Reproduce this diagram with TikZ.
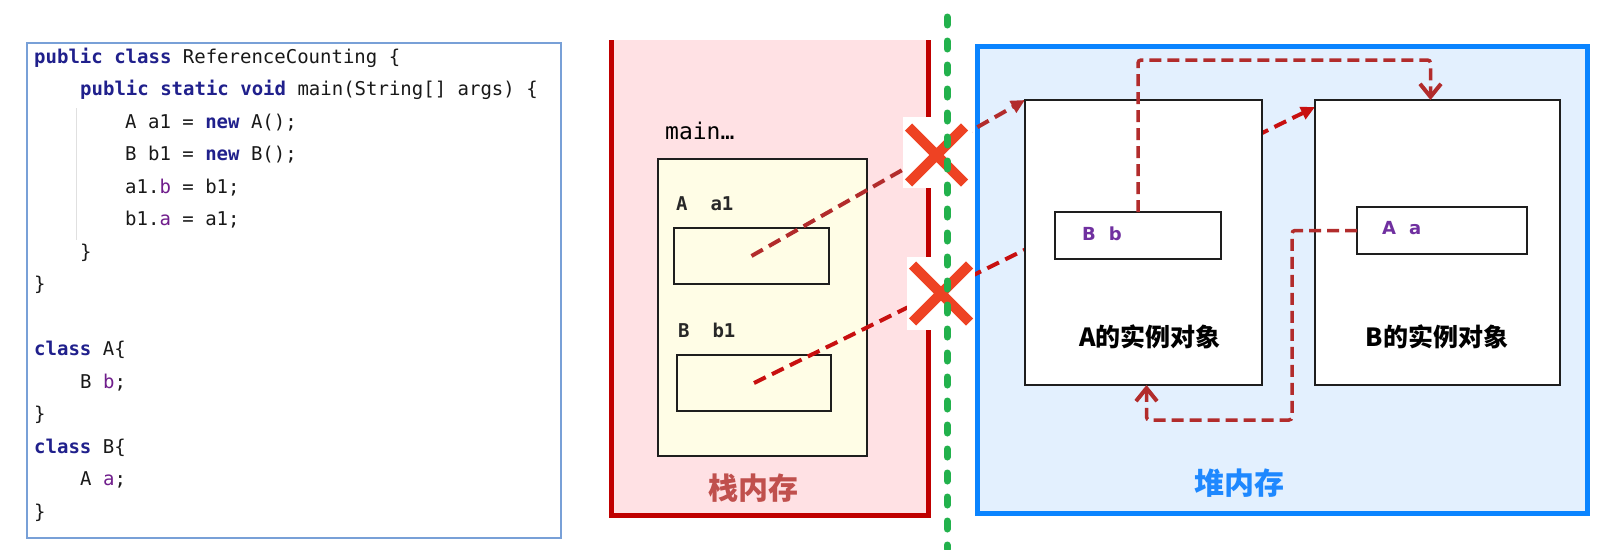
\documentclass[tikz,border=0pt]{standalone}
\usepackage{fontspec}
\setmonofont{DejaVu Sans Mono}
\setsansfont{DejaVu Sans}
\newfontfamily\cjkfont{Noto Sans CJK SC}
\usetikzlibrary{arrows.meta}
\definecolor{kwcol}{RGB}{32,32,140}
\definecolor{fdcol}{RGB}{112,30,140}
\definecolor{txtcol}{RGB}{25,25,25}
\definecolor{codeborder}{RGB}{120,160,215}
\definecolor{stackred}{RGB}{192,0,0}
\definecolor{stackfill}{RGB}{255,225,228}
\definecolor{framefill}{RGB}{255,253,230}
\definecolor{heapblue}{RGB}{10,132,255}
\definecolor{heapfill}{RGB}{227,240,254}
\definecolor{refc}{RGB}{178,44,44}
\definecolor{refb}{RGB}{200,16,16}
\definecolor{xred}{RGB}{238,66,35}
\definecolor{dotgreen}{RGB}{34,177,76}
\definecolor{stacklbl}{RGB}{192,80,77}
\definecolor{heaplbl}{RGB}{30,136,255}
\definecolor{purp}{RGB}{112,48,160}
\newcommand\kwd[1]{\textcolor{kwcol}{\bfseries #1}}
\newcommand\fld[1]{\textcolor{fdcol}{#1}}
\newcommand\codefont{\ttfamily\fontsize{19}{22}\selectfont\color{txtcol}}
\pgfdeclarelayer{bg}
\pgfdeclarelayer{mid}
\pgfdeclarelayer{fg}
\pgfsetlayers{bg,mid,main,fg}
\tikzset{
  codeline/.style={anchor=mid west, inner sep=0pt, font=\codefont},
  box/.style={draw={rgb,255:red,30;green,30;blue,30}, line width=1.6pt, inner sep=0pt, outer sep=0pt},
  ref/.style={draw=refc, line width=4pt, dash pattern=on 13pt off 7pt},
  reftip/.style={-{Triangle[length=14pt,width=13pt]}},
  link/.style={draw=refc, line width=3.5pt, dash pattern=on 12pt off 6pt, rounded corners=3pt,
    -{Straight Barb[length=13pt,width=21pt,line width=4pt]}},
  lbl/.style={inner sep=0pt, font=\ttfamily\bfseries\fontsize{19}{21}\selectfont, text={rgb,255:red,40;green,40;blue,40}},
  fieldlbl/.style={inner sep=0pt, font=\sffamily\bfseries\fontsize{18}{20}\selectfont, text=purp},
  objlbl/.style={inner sep=0pt, font=\cjkfont\bfseries\fontsize{25}{28}\selectfont},
  memlbl/.style={inner sep=0pt, font=\cjkfont\bfseries\fontsize{30}{32}\selectfont},
  xmark/.style={draw=xred, line width=10pt, line cap=butt},
}
\begin{document}
\begin{tikzpicture}[x=1pt,y=-1pt]
\useasboundingbox (0,0) rectangle (1603,549);

\begin{pgfonlayer}{bg}
\fill[white] (0,0) rectangle (1603,549);
% code panel
\node[draw=codeborder, line width=1.5pt, minimum width=534pt, minimum height=495pt, inner sep=0pt] (code) at (294,290.5) {};
\draw[black!12, line width=1pt] (76,108) -- (76,240);
\node[codeline] (l0) at (34,61) {\kwd{public} \kwd{class} ReferenceCounting \{};
\node[codeline] (l1) at (80,93.5) {\kwd{public} \kwd{static} \kwd{void} main(String[] args) \{};
\node[codeline] (l2) at (125,126) {A a1 = \kwd{new} A();};
\node[codeline] (l3) at (125,158.5) {B b1 = \kwd{new} B();};
\node[codeline] (l4) at (125,191) {a1.\fld{b} = b1;};
\node[codeline] (l5) at (125,223.5) {b1.\fld{a} = a1;};
\node[codeline] (l6) at (80,256) {\}};
\node[codeline] (l7) at (34,288.5) {\}};
\node[codeline] (l9) at (34,353.5) {\kwd{class} A\{};
\node[codeline] (l10) at (80,386) {B \fld{b};};
\node[codeline] (l11) at (34,418.5) {\}};
\node[codeline] (l12) at (34,451) {\kwd{class} B\{};
\node[codeline] (l13) at (80,483.5) {A \fld{a};};
\node[codeline] (l14) at (34,516) {\}};

% stack memory
\fill[stackfill] (611,40) rectangle (928,515);
\draw[stackred, line width=5pt, line join=miter] (611,40) -- (611,515) -- (928,515) -- (928,40);
\node[anchor=mid west, inner sep=0pt, font=\ttfamily\fontsize{23}{25}\selectfont] (mainlbl) at (665,137) {main…};
\node[box, fill=framefill, minimum width=209pt, minimum height=297pt] (frame) at (762.5,307.5) {};
\node[lbl, anchor=mid west] (a1lbl) at (676,208) {A~~a1};
\node[box, fill=framefill, minimum width=155pt, minimum height=56pt] (a1box) at (751.5,256) {};
\node[lbl, anchor=mid west] (b1lbl) at (678,335) {B~~b1};
\node[box, fill=framefill, minimum width=154pt, minimum height=56pt] (b1box) at (754,383) {};
\node[memlbl, text=stacklbl] (stacklabel) at (753,488) {栈内存};

% heap memory
\node[draw=heapblue, fill=heapfill, line width=5pt, minimum width=610pt, minimum height=467pt, inner sep=0pt] (heap) at (1282.5,280) {};
\node[memlbl, text=heaplbl] (heaplabel) at (1239,483) {堆内存};
\end{pgfonlayer}

% references from the stack
\begin{pgfonlayer}{mid}
\draw[ref, reftip] (a1box.center) -- (1025,100);
\end{pgfonlayer}

% heap objects
\node[box, fill=white, minimum width=237pt, minimum height=285pt] (A) at (1143.5,242.5) {};
\node[box, fill=white, minimum width=245pt, minimum height=285pt] (B) at (1437.5,242.5) {};
\node[box, fill=white, minimum width=166pt, minimum height=47pt] (Bb) at (1138,235.5) {};
\node[fieldlbl, anchor=mid west] (Bblbl) at (1082,238) {B\hspace{13pt}b};
\node[box, fill=white, minimum width=170pt, minimum height=47pt] (Aa) at (1442,230.5) {};
\node[fieldlbl, anchor=mid west] (Aalbl) at (1382,232) {A\hspace{13pt}a};
\node[objlbl] (Albl) at (1150,337) {A的实例对象};
\node[objlbl] (Blbl) at (1437,337) {B的实例对象};

\begin{pgfonlayer}{mid}
\draw[ref, draw=refb, reftip] (b1box.center) -- ([yshift=-7pt]B.north west);
\end{pgfonlayer}

\coordinate (tc) at (1300,60);
\coordinate (bc) at (1292,420);
\draw[link] (Bb.north) |- (tc) -| ([xshift=-7pt]B.north);
\draw[link] (Aa.west) -| (bc) -| ([xshift=3pt]A.south);

\begin{pgfonlayer}{fg}
\fill[white] (903,117) rectangle (972,188);
\fill[white] (907,257) rectangle (975,330);
\draw[xmark] (908.5,127) -- (964.5,183) (908.5,183) -- (964.5,127);
\draw[xmark] (912.5,265) -- (969.5,322) (912.5,322) -- (969.5,265);
\draw[dotgreen, line width=7pt, line cap=round, dash pattern=on 8pt off 16pt] (947,17) -- (947,549);
\end{pgfonlayer}
\end{tikzpicture}
\end{document}
